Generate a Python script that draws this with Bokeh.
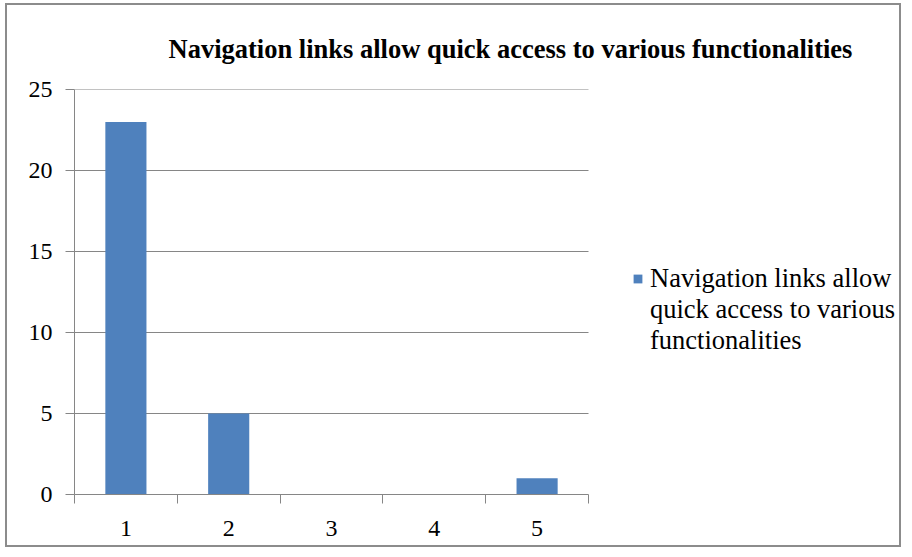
from bokeh.plotting import figure
from bokeh.models import FixedTicker, Legend, LegendItem, Range1d, ColumnDataSource
from bokeh.embed import file_html
from bokeh.resources import INLINE

categories = [1, 2, 3, 4, 5]
values = [23, 5, 0, 0, 1]
y_ticks = [0, 5, 10, 15, 20, 25]
title_text = "Navigation links  allow quick access to various functionalities"
series_lines = ["Navigation links allow", "quick access to various", "functionalities"]

SERIF = "Liberation Serif"
GRID = "#868686"
BAR = "#4F81BD"

# layout (pixels): plot area for the categories, the frame also holds the legend
PLOT_W = 514
FRAME_W = 825
x_lo = categories[0] - 0.5
x_hi = categories[-1] + 0.5
x_end = x_lo + (x_hi - x_lo) * FRAME_W / PLOT_W

p = figure(frame_width=FRAME_W, frame_height=405, output_backend="svg", toolbar_location=None,
           x_range=Range1d(x_lo, x_end),
           y_range=Range1d(y_ticks[0], y_ticks[-1]),
           min_border_left=67, min_border_right=0, min_border_top=84, min_border_bottom=51)
p.styles = {"border": "2px solid #8c8c8c", "margin": "3px 0 0 5px"}

# horizontal gridlines limited to the category span
grid_src = ColumnDataSource(dict(y=y_ticks[1:], x0=[x_lo] * (len(y_ticks) - 1),
                                 x1=[x_hi] * (len(y_ticks) - 1)))
p.segment(x0="x0", x1="x1", y0="y", y1="y", source=grid_src, line_color=GRID, line_width=1)

src = ColumnDataSource(dict(x=categories, top=values))
r = p.vbar(x="x", top="top", width=0.4, bottom=0, source=src, fill_color=BAR, line_color=None)
blank = p.vbar(x=[], top=[], width=0.4, fill_alpha=0, line_alpha=0)

p.title.text = title_text
p.title.text_font = SERIF
p.title.text_font_style = "bold"
p.title.text_font_size = "26.5px"
p.title.text_color = "black"
p.title.align = "left"
p.title.offset = 94
p.title.standoff = 52

p.outline_line_color = None
p.xgrid.grid_line_color = None
p.ygrid.grid_line_color = None

xa = p.xaxis[0]
xa.bounds = (x_lo, x_hi)
xa.ticker = FixedTicker(ticks=categories,
                        minor_ticks=[c - 0.5 for c in categories] + [categories[-1] + 0.5])
xa.major_tick_line_color = None
xa.major_tick_out = 9
xa.major_tick_in = 0
xa.minor_tick_line_color = GRID
xa.minor_tick_out = 9
xa.minor_tick_in = 0
xa.axis_line_color = GRID
xa.major_label_text_font = SERIF
xa.major_label_text_font_size = "24px"
xa.major_label_text_color = "black"
xa.major_label_standoff = 17

ya = p.yaxis[0]
ya.ticker = FixedTicker(ticks=y_ticks)
ya.major_tick_line_color = GRID
ya.major_tick_out = 9
ya.major_tick_in = 0
ya.minor_tick_line_color = None
ya.axis_line_color = GRID
ya.major_label_text_font = SERIF
ya.major_label_text_font_size = "24px"
ya.major_label_text_color = "black"
ya.major_label_standoff = 13

items = [LegendItem(label=series_lines[0], renderers=[r])] + \
        [LegendItem(label=t, renderers=[blank]) for t in series_lines[1:]]
legend = Legend(items=items,
                location=(558, 138), padding=0, margin=0, spacing=0,
                glyph_width=11, glyph_height=11, label_standoff=7,
                border_line_color=None, background_fill_alpha=0,
                label_text_font=SERIF, label_text_font_size="26.5px",
                label_text_color="black", label_height=31)
p.add_layout(legend, "center")

open("out.html", "w").write(file_html(p, INLINE))
